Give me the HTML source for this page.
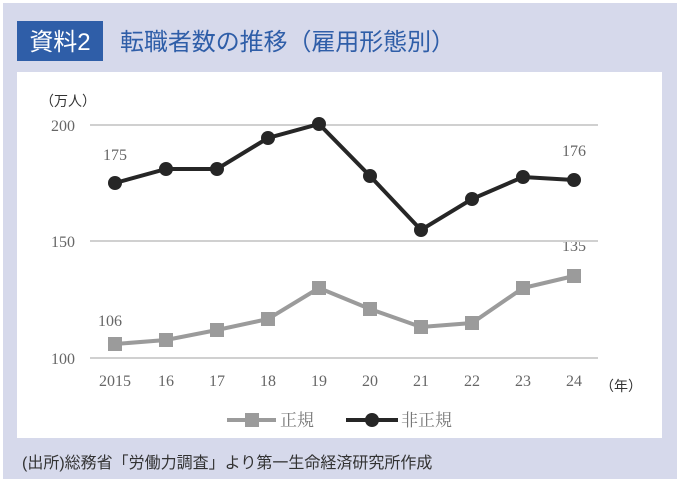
<!DOCTYPE html>
<html><head><meta charset="utf-8"><style>
body{margin:0;background:#fff;}
svg{display:block;}
</style></head><body>
<svg width="680" height="483" xmlns="http://www.w3.org/2000/svg">
<rect x="3" y="3" width="674" height="476" fill="#d6d9eb"/>
<rect x="17" y="21" width="86" height="40" fill="#2f5ea8"/>
<text x="60" y="50" font-family="Liberation Sans, Noto Sans CJK JP, sans-serif" font-size="24" fill="#fff" text-anchor="middle">資料2</text>
<text x="120" y="50" font-family="Liberation Sans, Noto Sans CJK JP, sans-serif" font-size="24" fill="#2f5ea8" textLength="335">転職者数の推移（雇用形態別）</text>
<rect x="17" y="72" width="645" height="366" fill="#fff"/>
<g font-family="Liberation Serif, Noto Serif CJK SC, serif" font-size="16" fill="#666">
<text x="40" y="106" font-family="Liberation Sans, Noto Sans CJK JP, sans-serif" font-size="14" fill="#333">（万人）</text>
<text x="75" y="131" text-anchor="end">200</text>
<text x="75" y="247" text-anchor="end">150</text>
<text x="75" y="364" text-anchor="end">100</text>
<g text-anchor="middle">
<text x="115" y="386">2015</text><text x="166" y="386">16</text><text x="217" y="386">17</text><text x="268" y="386">18</text><text x="319" y="386">19</text><text x="370" y="386">20</text><text x="421" y="386">21</text><text x="472" y="386">22</text><text x="523" y="386">23</text><text x="574" y="386">24</text>
<text x="115" y="160">175</text><text x="574" y="156">176</text><text x="110" y="326">106</text><text x="574" y="251">135</text>
</g>
<text x="600" y="391" font-family="Liberation Sans, Noto Sans CJK JP, sans-serif" font-size="14" fill="#333">（年）</text>
</g>
<g stroke="#d0d0d0" stroke-width="2">
<line x1="90" y1="125" x2="598" y2="125"/><line x1="90" y1="241" x2="598" y2="241"/><line x1="90" y1="358" x2="598" y2="358"/>
</g>
<polyline fill="none" stroke="#9b9b9b" stroke-width="4" points="115,344 166,340 217,330 268,319 319,288 370,309 421,327 472,323 523,288 574,276"/>
<g fill="#9b9b9b">
<rect x="108" y="337" width="14" height="14"/><rect x="159" y="333" width="14" height="14"/><rect x="210" y="323" width="14" height="14"/><rect x="261" y="312" width="14" height="14"/><rect x="312" y="281" width="14" height="14"/><rect x="363" y="302" width="14" height="14"/><rect x="414" y="320" width="14" height="14"/><rect x="465" y="316" width="14" height="14"/><rect x="516" y="281" width="14" height="14"/><rect x="567" y="269" width="14" height="14"/>
</g>
<polyline fill="none" stroke="#262626" stroke-width="4" points="115,183 166,169 217,169 268,138 319,124 370,176 421,230 472,199 523,177 574,180"/>
<g fill="#262626">
<circle cx="115" cy="183" r="7"/><circle cx="166" cy="169" r="7"/><circle cx="217" cy="169" r="7"/><circle cx="268" cy="138" r="7"/><circle cx="319" cy="124" r="7"/><circle cx="370" cy="176" r="7"/><circle cx="421" cy="230" r="7"/><circle cx="472" cy="199" r="7"/><circle cx="523" cy="177" r="7"/><circle cx="574" cy="180" r="7"/>
</g>
<line x1="227" y1="420" x2="276" y2="420" stroke="#9b9b9b" stroke-width="4"/>
<rect x="245" y="413" width="14" height="14" fill="#9b9b9b"/>
<line x1="346" y1="420" x2="398" y2="420" stroke="#262626" stroke-width="4"/>
<circle cx="372" cy="420" r="7" fill="#262626"/>
<g font-family="Liberation Serif, Noto Serif CJK SC, serif" font-size="17" fill="#777">
<text x="280" y="426">正規</text><text x="401" y="426">非正規</text>
</g>
<text x="22" y="468" font-family="Liberation Sans, Noto Sans CJK JP, sans-serif" font-size="16" fill="#333">(出所)総務省「労働力調査」より第一生命経済研究所作成</text>
</svg>
</body></html>
